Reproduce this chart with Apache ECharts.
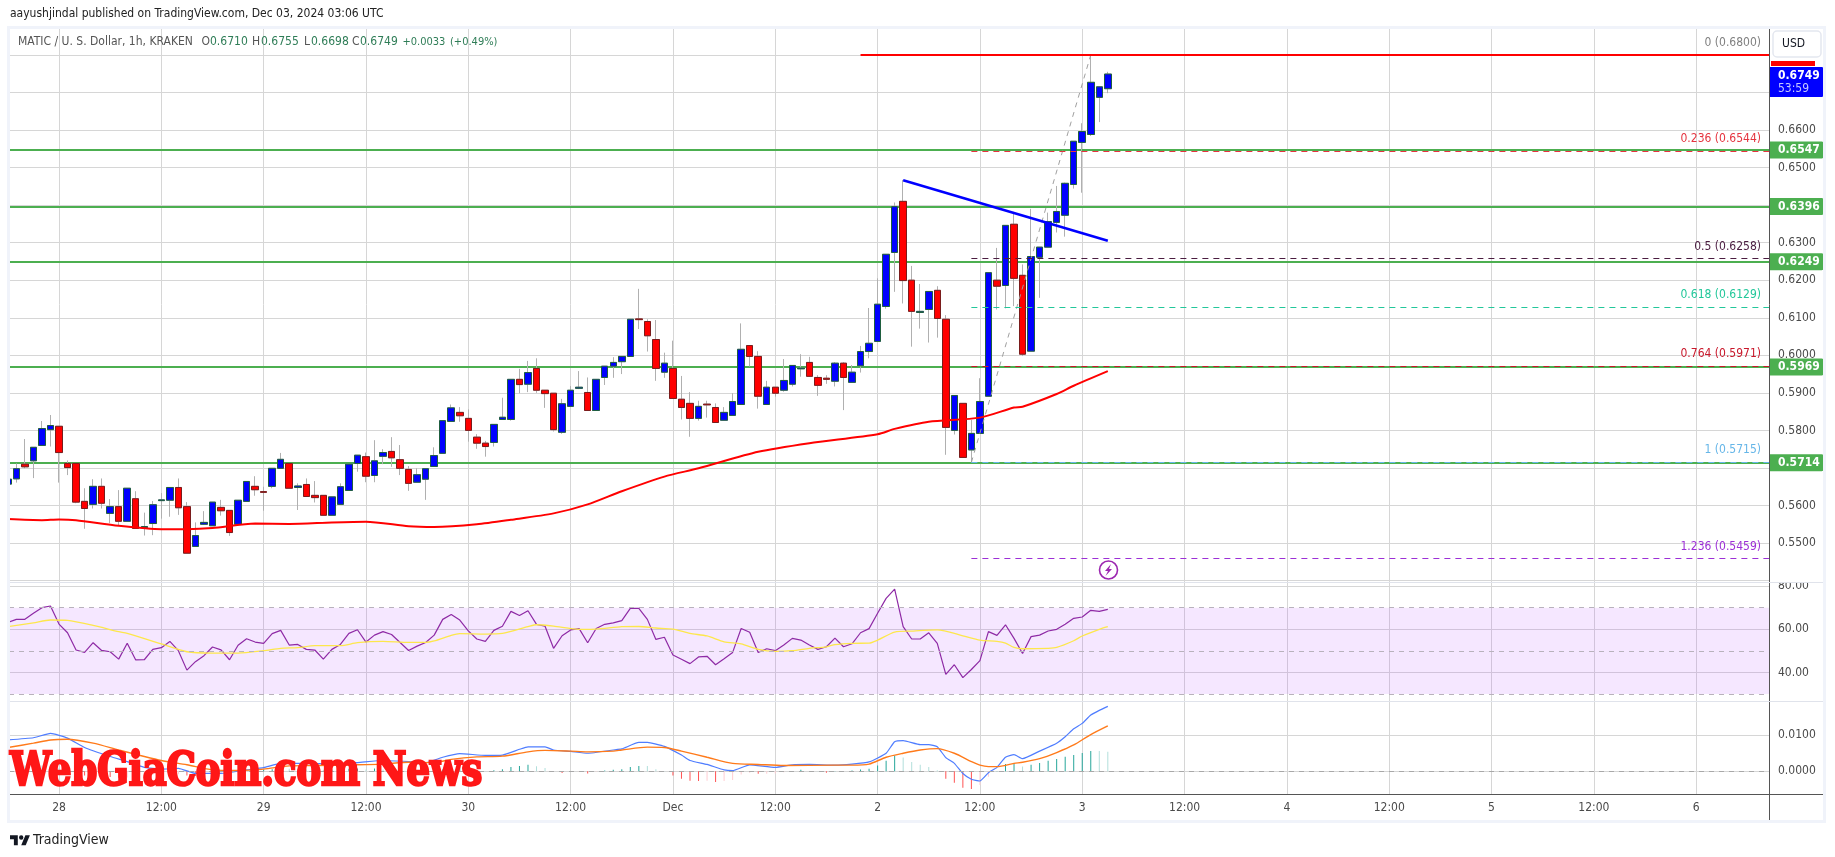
<!DOCTYPE html>
<html>
<head>
<meta charset="utf-8">
<title>MATIC / U.S. Dollar</title>
<script src="https://cdn.jsdelivr.net/npm/echarts@6/dist/echarts.min.js"></script>
<style>html,body{margin:0;padding:0;background:#fff}#c{width:1835px;height:857px}</style>
</head>
<body>
<div id="c"></div>
<script>
// ---------- data: hour offset from 28 Nov 00:00 ----------
const firstHour = -6;
// [open, close, low, high], one row per hour
const ohlc = [
[.5657,.5670,.5648,.5672],[.5671,.5698,.5661,.5712],[.5710,.5703,.5699,.5777],[.5719,.5755,.5673,.5755],[.5760,.5805,.5760,.5825],[.5802,.5813,.5757,.5841],
[.5811,.5741,.5661,.5811],[.5712,.5701,.5681,.5720],[.5712,.5609,.5606,.5712],[.5611,.5592,.5538,.5646],[.5603,.5651,.5592,.5670],[.5651,.5606,.5592,.5672],
[.5579,.5597,.5553,.5617],[.5597,.5558,.5548,.5641],[.5558,.5646,.5558,.5646],[.5618,.5539,.5539,.5638],[.5541,.5544,.5520,.5581],[.5552,.5602,.5521,.5612],
[.5613,.5615,.5565,.5633],[.5614,.5648,.5570,.5648],[.5648,.5594,.5575,.5672],[.5597,.5473,.5473,.5609],[.5491,.5520,.5490,.5555],[.5550,.5555,.5548,.5585],
[.5546,.5609,.5546,.5609],[.5595,.5586,.5573,.5615],[.5587,.5528,.5519,.5587],[.5550,.5614,.5548,.5614],[.5611,.5664,.5611,.5664],[.5651,.5642,.5626,.5678],
[.5637,.5635,.5586,.5650],[.5651,.5699,.5646,.5699],[.5699,.5723,.5699,.5740],[.5712,.5646,.5646,.5712],[.5648,.5652,.5588,.5659],[.5656,.5624,.5623,.5672],
[.5627,.5621,.5608,.5665],[.5627,.5574,.5574,.5627],[.5574,.5623,.5574,.5623],[.5603,.5650,.5603,.5659],[.5640,.5710,.5640,.5710],[.5712,.5734,.5690,.5734],
[.5730,.5678,.5662,.5741],[.5680,.5719,.5662,.5774],[.5731,.5741,.5710,.5750],[.5744,.5727,.5703,.5782],[.5722,.5699,.5681,.5761],[.5696,.5659,.5639,.5705],
[.5662,.5682,.5661,.5699],[.5670,.5698,.5615,.5699],[.5704,.5733,.5704,.5755],[.5739,.5826,.5739,.5826],[.5824,.5860,.5824,.5869],[.5848,.5839,.5823,.5862],
[.5832,.5800,.5770,.5856],[.5782,.5766,.5751,.5790],[.5766,.5757,.5730,.5772],[.5768,.5816,.5757,.5816],[.5829,.5835,.5829,.5887],[.5829,.5936,.5826,.5936],
[.5936,.5922,.5899,.5964],[.5923,.5954,.5902,.5985],[.5965,.5907,.5900,.5992],[.5907,.5898,.5860,.5907],[.5899,.5802,.5797,.5899],[.5795,.5871,.5791,.5884],
[.5864,.5907,.5862,.5918],[.5912,.5915,.5910,.5958],[.5901,.5853,.5853,.5941],[.5853,.5936,.5853,.5936],[.5941,.5971,.5921,.5971],[.5971,.5981,.5940,.5995],
[.5983,.5997,.5950,.5997],[.5997,.6096,.5997,.6096],[.6097,.6095,.6070,.6177],[.6090,.6052,.6010,.6096],[.6042,.5965,.5932,.6094],[.5955,.5979,.5940,.6007],
[.5965,.5885,.5885,.6039],[.5883,.5861,.5829,.5945],[.5872,.5832,.5783,.5902],[.5832,.5864,.5826,.5879],[.5870,.5868,.5834,.5879],[.5861,.5821,.5821,.5872],
[.5827,.5848,.5827,.5862],[.5840,.5877,.5840,.5899],[.5869,.6016,.5869,.6085],[.6026,.5997,.5970,.6026],[.5997,.5891,.5858,.6011],[.5869,.5915,.5869,.5932],
[.5915,.5899,.5890,.5915],[.5907,.5933,.5903,.5990],[.5923,.5973,.5917,.5973],[.5964,.5966,.5943,.6003],[.5981,.5944,.5943,.5996],[.5941,.5920,.5892,.5947],
[.5939,.5936,.5924,.5947],[.5931,.5979,.5917,.5982],[.5979,.5941,.5854,.5982],[.5928,.5955,.5928,.5974],[.5972,.6010,.5954,.6025],[.6010,.6032,.5992,.6126],
[.6037,.6136,.6037,.6205],[.6130,.6269,.6124,.6269],[.6274,.6396,.6169,.6407],[.6410,.6199,.6138,.6467],[.6200,.6117,.6023,.6238],[.6114,.6117,.6071,.6190],
[.6122,.6170,.6034,.6170],[.6173,.6098,.6047,.6184],[.6096,.5808,.5735,.6107],[.5800,.5893,.5789,.5893],[.5872,.5728,.5728,.5872],[.5748,.5792,.5715,.5828],
[.5792,.5877,.5792,.5939],[.5891,.6220,.5891,.6220],[.6200,.6184,.6122,.6286],[.6186,.6346,.6125,.6346],[.6349,.6205,.6131,.6382],[.6213,.6003,.5998,.6242],
[.6011,.6263,.6011,.6390],[.6261,.6288,.6153,.6288],[.6288,.6356,.6288,.6380],[.6354,.6383,.6327,.6451],[.6373,.6458,.6316,.6460],[.6455,.6570,.6444,.6570],
[.6567,.6596,.6433,.6618],[.6588,.6727,.6584,.6800],[.6687,.6715,.6621,.6715],[.6710,.6749,.6698,.6755]
];
// moving average over price: [hour, value]
const priceMA = [[-6,.5564],[-2,.5561],[0,.5563],[2,.5561],[7,.5546],[12,.5537],[15,.5537],[18,.5540],[23,.5552],[27,.5551],[32,.5555],[36,.5557],[41,.5545],[44,.5543],[49,.5550],[53,.5562],[58,.5579],[62,.5603],[66,.5638],[71,.5677],[75,.5699],[82,.5743],[88,.5766],[96,.5790],[98,.5804],[102,.5823],[108,.5834],[112,.5861],[113,.5863],[117,.5897],[119,.5919],[123,.5958]];
// RSI, one per hour
const rsi = [63.2,64.6,64.6,67.4,70.0,70.8,62.4,58.4,50.4,49.3,53.8,50.2,49.6,46.2,53.5,45.8,45.9,50.7,51.5,54.4,50.1,41.1,45.0,47.8,51.8,50.5,45.9,52.6,55.6,54.1,53.5,58.0,59.5,52.7,53.0,50.7,50.4,46.2,50.7,53.0,58.1,59.8,54.1,57.3,58.9,57.6,53.9,50.2,52.2,53.9,57.3,64.6,66.9,64.3,59.3,55.5,54.4,59.5,61.4,68.3,66.4,68.6,62.3,61.4,51.2,57.0,59.7,60.3,53.8,60.4,62.3,63.0,
64.0,69.7,69.7,64.6,55.3,56.3,48.1,46.1,44.1,47.2,47.5,43.6,46.4,49.3,60.4,58.6,49.3,51.0,50.1,52.7,55.8,55.0,52.7,50.7,51.9,55.9,51.9,53.3,58.4,60.3,67.4,74.3,78.6,61.2,55.5,55.5,58.4,53.5,39.1,43.6,37.6,41.4,45.5,58.9,57.2,62.1,55.8,48.8,56.6,57.3,59.2,60.0,62.3,65.1,65.7,68.8,68.3,69.2];
const rsiMA = [[-6,61.2],[-3,63.0],[-1,64.3],[1,64.1],[4,61.8],[7,58.9],[8,58.1],[12,53.2],[15,49.6],[18,49.0],[21,49.0],[24,50.1],[26,51.2],[28,51.5],[30,52.4],[33,52.4],[35,53.8],[38,54.4],[41,53.9],[43,53.9],[44,54.6],[46,57.2],[47,58.0],[50,57.8],[52,58.1],[55,61.2],[56,62.1],[58,61.5],[61,60.0],[63,60.1],[66,61.2],[68,61.3],[70,60.6],[72,60.1],[74,58.1],[76,56.9],[78,54.2],[80,53.2],[82,50.7],[84,49.8],[86,50.1],[88,51.2],[90,51.9],[91,52.9],[93,53.5],[95,53.6],[96,55.0],[98,58.7],[100,59.2],[103,59.7],[106,57.0],[108,55.0],[110,54.4],[111,53.6],[112,51.6],[113,51.0],[116,51.2],[117,51.6],[119,54.7],[120,56.9],[122,60.0],[123,61.2]];
const rsiBands = [70,50,30];
// MACD
const macdLine = [[-6,.0087],[-3,.0093],[-1,.0105],[1,.0092],[3,.0066],[6,.0041],[8,.0027],[10,.0011],[12,.0006],[14,.0008],[16,-.0006],[19,-.0006],[22,.0004],[24,.0010],[26,.0022],[29,.0022],[32,.0020],[35,.0024],[38,.0030],[41,.0027],[43,.0024],[45,.0039],[47,.0049],[50,.0044],[52,.0045],[54,.0061],[55,.0068],[57,.0068],[58,.0059],[60,.0055],[62,.0050],[65,.0059],[66,.0062],[68,.0080],[69,.0080],[71,.0069],[73,.0045],[74,.0030],[76,.0019],[78,.0004],[79,.0002],[81,.0018],[84,.0011],[86,.0018],[88,.0019],[91,.0017],[93,.0020],[95,.0026],[97,.0050],[98,.0082],[99,.0085],[101,.0074],[102,.0074],[103,.0068],[104,.0038],[105,.0022],[106,-.0006],[107,-.0022],[108,-.0027],[109,-.0004],[110,.0011],[111,.0039],[112,.0046],[113,.0035],[115,.0056],[117,.0078],[118,.0096],[119,.0118],[120,.0133],[121,.0156],[122,.0169],[123,.0180]];
const macdSignal = [[-6,.0066],[-3,.0078],[-1,.0087],[1,.0089],[4,.0078],[7,.0059],[10,.0041],[12,.0030],[15,.0018],[18,.0004],[21,.0002],[24,.0006],[27,.0015],[30,.0016],[35,.0018],[38,.0020],[41,.0025],[44,.0024],[46,.0033],[49,.0040],[52,.0042],[55,.0054],[57,.0058],[60,.0056],[62,.0054],[65,.0056],[66,.0059],[69,.0067],[71,.0066],[73,.0056],[76,.0039],[79,.0022],[82,.0019],[85,.0016],[91,.0017],[93,.0017],[95,.0020],[97,.0039],[99,.0050],[101,.0059],[103,.0063],[105,.0050],[107,.0027],[108,.0017],[109,.0013],[110,.0013],[112,.0022],[113,.0025],[115,.0035],[117,.0052],[119,.0073],[121,.0102],[123,.0126]];
const macdHist = [.0020,.0018,.0016,.0016,.0016,.0018,.0010,.0002,-.0008,-.0012,-.0014,-.0015,-.0016,-.0018,-.0017,-.0016,-.0012,-.0010,-.0010,-.0008,-.0008,-.0012,-.0013,-.0012,-.0010,-.0008,-.0006,-.0004,-.0002,.0002,.0004,.0006,.0007,.0007,.0006,.0005,.0004,.0004,.0005,.0006,.0007,
.0008,.0005,.0008,.0005,.0003,.0002,.0002,-.0001,.0001,.0002,.0005,.0008,.0016,.0006,.0003,.0001,.0003,.0006,.0012,.0015,.0018,.0014,.0009,.0001,-.0005,-.0001,-.0001,-.0006,-.0001,.0002,.0004,.0006,.0012,.0015,.0015,.0006,.0001,-.0012,-.0021,-.0026,-.0027,-.0026,-.0030,-.0027,-.0024,-.0009,-.0004,-.0007,-.0007,-.0006,-.0003,.0001,.0004,.0001,.0001,-.0004,.0001,-.0001,.0002,.0005,.0007,.0016,.0029,.0044,.0038,.0026,.0018,.0012,.0003,-.0021,-.0032,-.0046,-.0049,-.0038,-.0015,.0001,.0020,.0023,.0013,.0018,.0023,.0029,.0034,.0040,.0045,.0051,.0056,.0056,.0054];
// horizontal levels
const supportLevels = [.6547,.6396,.6249,.5969,.5714];
const fibRatios = ['0','0.236','0.5','0.618','0.764','1','1.236'];
const fibPrices = [.6800,.6544,.6258,.6129,.5971,.5715,.5459];
const fibColors = ['#808080','#e5343f','#4a1c40','#22c79a','#c9182b','#66b6e8','#9c2fd6'];
const fibStartHour = 107;
const highLine = {hour:94, price:.6800};
const trendLine = [[99,.6466],[123,.6305]];
const fibDiagonal = [[107,.5715],[121,.6800]];
const lastPrice = .6749, countdown = '53:59';
// tick labels
const timeTicks = [[0,'28'],[12,'12:00'],[24,'29'],[36,'12:00'],[48,'30'],[60,'12:00'],[72,'Dec'],[84,'12:00'],[96,'2'],[108,'12:00'],[120,'3'],[132,'12:00'],[144,'4'],[156,'12:00'],[168,'5'],[180,'12:00'],[192,'6']];
const priceGrid = [.54,.55,.56,.57,.58,.59,.60,.61,.62,.63,.64,.65,.66,.67,.68];
const priceLabels = [.55,.56,.58,.59,.60,.61,.62,.63,.65,.66];
const rsiTicks = [40,60,80];
const macdTicks = [0,.01];

// ---------- view settings ----------
const FONT = '"DejaVu Sans Condensed","DejaVu Sans",sans-serif';
const GRIDC = '#d6d6d6';
const xMin = -5.864, xMax = 200.54;
const hours = ohlc.map((_, i) => firstHour + i);
const series = [];

function xAxis(idx, withLabels) {
  return {
    type:'value', gridIndex:idx, min:xMin, max:xMax, scale:true,
    axisLine:{show:false},
    axisTick:{show:false, customValues:timeTicks.map(t => t[0])},
    splitLine:{show:true, lineStyle:{color:GRIDC, width:1}},
    axisLabel: withLabels ? {
      show:true, customValues:timeTicks.map(t => t[0]), margin:8,
      color:'#4a4a4a', fontFamily:FONT, fontSize:12,
      formatter:v => { const f = timeTicks.find(t => t[0] === v); return f ? f[1] : ''; }
    } : {show:false}
  };
}
function yAxis(idx, min, max, grid, labels, fmt) {
  return {
    type:'value', gridIndex:idx, position:'right', min, max, scale:true,
    axisLine:{show:true, onZero:false, lineStyle:{color:'#555', width:1}},
    axisTick:{show:false, customValues:grid},
    splitLine:{show:true, lineStyle:{color:GRIDC, width:1}},
    axisLabel:{show:true, customValues:labels, margin:9, color:'#4a4a4a', fontFamily:FONT, fontSize:12, formatter:fmt}
  };
}

// support levels (under the candles)
series.push({
  type:'line', xAxisIndex:0, yAxisIndex:0, data:[], z:1, clip:false, silent:true,
  markLine:{
    silent:true, symbol:'none', animation:false, z:1,
    data: supportLevels.map(p => [{
      coord:[xMin,p], lineStyle:{color:'#4caf50', width:2, type:'solid'},
      label:{show:true, position:'end', distance:1, formatter:p.toFixed(4), color:'#fff', fontWeight:'bold', fontSize:12, fontFamily:FONT,
        backgroundColor:'#4caf50', padding:[3,4,2,8], borderRadius:[0,2,2,0]}
    },{coord:[xMax,p]}])
  }
});
// wicks
series.push({
  type:'candlestick', xAxisIndex:0, yAxisIndex:0, z:2, barWidth:7, silent:true,
  data: ohlc.map((r,i) => [hours[i], r[0], r[1], r[2], r[3]]),
  itemStyle:{color:'#b0b0b0', color0:'#b0b0b0', borderColor:'#b0b0b0', borderColor0:'#b0b0b0', borderWidth:1}
});
// bodies
series.push({
  type:'candlestick', xAxisIndex:0, yAxisIndex:0, z:2, barWidth:7, silent:true,
  data: ohlc.map((r,i) => [hours[i], r[0], r[1], Math.min(r[0],r[1]), Math.max(r[0],r[1])]),
  itemStyle:{color:'#0000ff', color0:'#ff0000', borderColor:'#1f5f3f', borderColor0:'#7a1c1c', borderWidth:1}
});
// moving average
series.push({type:'line', xAxisIndex:0, yAxisIndex:0, z:3, data:priceMA, showSymbol:false, smooth:0.25, lineStyle:{color:'#ff0000', width:2}, silent:true});
// drawings
series.push({type:'line', xAxisIndex:0, yAxisIndex:0, z:3, data:fibDiagonal, showSymbol:false, lineStyle:{color:'#a0a0a0', width:1, type:[5,5]}, silent:true});
series.push({type:'line', xAxisIndex:0, yAxisIndex:0, z:4, data:trendLine, showSymbol:false, lineStyle:{color:'#0000ff', width:2.5}, silent:true});
// fibonacci levels
series.push({
  type:'line', xAxisIndex:0, yAxisIndex:0, data:[], z:4, clip:false, silent:true,
  markLine:{
    silent:true, symbol:'none', animation:false, z:4,
    data: fibPrices.map((p,i) => [{
      coord:[fibStartHour,p], lineStyle:{color:fibColors[i], width:1, type:[6,5]},
      label:{show:true, position:'insideEndTop', distance:[8,6], formatter:fibRatios[i]+' ('+p.toFixed(4)+')', color:fibColors[i], fontSize:12, fontFamily:FONT}
    },{coord:[xMax,p]}]).concat([
      [{coord:[highLine.hour,highLine.price], lineStyle:{color:'#ff0000', width:2, type:'solid'}, label:{show:false}},{coord:[xMax,highLine.price]}],
      [{coord:[123,lastPrice], lineStyle:{width:1, color:'rgba(0,0,0,0)'},
        label:{show:true, position:'end', distance:1, offset:[0,8], color:'#fff', backgroundColor:'#0000ff', padding:[2,4,2,8], borderRadius:[0,2,2,0],
          formatter:'{a|'+lastPrice.toFixed(4)+'}\n{b|'+countdown+'}',
          rich:{a:{color:'#fff', fontWeight:'bold', fontSize:12, fontFamily:FONT, lineHeight:13},b:{color:'#c4c8ff', fontSize:12, fontFamily:FONT, lineHeight:13}}}
      },{coord:[xMax,lastPrice]}]
    ])
  }
});
// RSI
series.push({
  type:'line', xAxisIndex:1, yAxisIndex:1, z:3, data:rsi.map((v,i) => [hours[i],v]), showSymbol:false,
  lineStyle:{color:'#8e2aa5', width:1.2}, silent:true,
  markArea:{silent:true, animation:false, itemStyle:{color:'rgba(170,60,255,0.12)'}, data:[[{yAxis:rsiBands[0]},{yAxis:rsiBands[2]}]]},
  markLine:{silent:true, symbol:'none', animation:false, label:{show:false},
    lineStyle:{color:'#b8b2bc', width:1, type:[5,5]}, data:rsiBands.map(v => ({yAxis:v}))}
});
series.push({type:'line', xAxisIndex:1, yAxisIndex:1, z:3, data:rsiMA, showSymbol:false, smooth:0.25, lineStyle:{color:'#fde74c', width:1.3}, silent:true});
// MACD
series.push({
  type:'bar', xAxisIndex:2, yAxisIndex:2, z:2, barWidth:1, silent:true,
  data: macdHist.map((v,i) => {
    const prev = i ? macdHist[i-1] : v;
    const col = v >= 0 ? (v > prev ? '#26a69a' : '#b2dfdb') : (v < prev ? '#ff5252' : '#ffcdd2');
    return {value:[hours[i],v], itemStyle:{color:col}};
  }),
  markLine:{silent:true, symbol:'none', animation:false, label:{show:false},
    lineStyle:{color:'#a8a8a8', width:1, type:[5,5]}, data:[{yAxis:0}]}
});
series.push({type:'line', xAxisIndex:2, yAxisIndex:2, z:3, data:macdLine, showSymbol:false, smooth:0.15, lineStyle:{color:'#4f7dff', width:1.2}, silent:true});
series.push({type:'line', xAxisIndex:2, yAxisIndex:2, z:3, data:macdSignal, showSymbol:false, smooth:0.25, lineStyle:{color:'#ff7a1a', width:1.4}, silent:true});

// ---------- page furniture ----------
function txt(text, x, y, fill, size, extra) {
  return Object.assign({type:'text', x, y, z:50, silent:true,
    style:{text, fill, font:(size||12)+'px '+FONT, textVerticalAlign:'middle'}}, extra||{});
}
function hline(x1,x2,y,color) {
  return {type:'line', z:40, silent:true, shape:{x1,y1:y+.5,x2,y2:y+.5}, style:{stroke:color, lineWidth:1}};
}
const GREEN='#2f7d57', GREY='#555';
const graphic = [
  {type:'rect', z:39, silent:true, shape:{x:1771,y:574,width:52,height:8}, style:{fill:'#fff'}},
  {type:'rect', z:59, silent:true, shape:{x:0,y:28,width:8,height:794}, style:{fill:'#fff'}},
  {type:'rect', z:60, silent:true, shape:{x:8.5,y:27.5,width:1816,height:794}, style:{fill:'none', stroke:'#f0f3fa', lineWidth:3}},
  hline(9,1825,582,'#e0e3eb'), hline(9,1825,701,'#e0e3eb'), hline(9,1825,794,'#555'),
  {type:'line', z:40, silent:true, shape:{x1:1769.5,y1:794,x2:1769.5,y2:821}, style:{stroke:'#555', lineWidth:1}},
  {type:'rect', z:45, silent:true, shape:{x:1771,y:61,width:44,height:5}, style:{fill:'#ff0000'}},
  {type:'rect', z:61, silent:true, shape:{x:1773,y:31,width:48,height:26,r:4}, style:{fill:'#fff', stroke:'#e4e7ef', lineWidth:1.5}},
  txt('USD',1782,44,'#131722',12,{z:62}),
  txt('aayushjindal published on TradingView.com, Dec 03, 2024 03:06 UTC',10,14,'#222',12),
  txt('MATIC / U. S. Dollar, 1h, KRAKEN',18,42,GREY,12),
  txt('O',201.5,42,GREY,12), txt('0.6710',210,42,GREEN,12),
  txt('H',252,42,GREY,12), txt('0.6755',261,42,GREEN,12),
  txt('L',304,42,GREY,12), txt('0.6698',311,42,GREEN,12),
  txt('C',352,42,GREY,12), txt('0.6749',360,42,GREEN,12),
  txt('+0.0033',402.5,42,GREEN,11), txt('(+0.49%)',450,42,GREEN,11),
  {type:'circle', z:50, silent:true, shape:{cx:1108.5,cy:570,r:9}, style:{fill:'#fff', stroke:'#9c27b0', lineWidth:1.6}},
  {type:'polygon', z:51, silent:true, shape:{points:[[1111,564],[1105,571],[1108,571],[1105.5,576],[1112,569],[1109,569]]}, style:{fill:'#9c27b0'}},
  {type:'text', z:70, silent:true, x:10, y:773, scaleX:0.89, style:{text:'WebGiaCoin.com News', fill:'#ff1717', stroke:'#ff1717', lineWidth:2.5, font:'900 46px "DejaVu Serif Condensed","DejaVu Serif",serif', textVerticalAlign:'middle'}},
  {type:'polygon', z:50, silent:true, shape:{points:[[10,835.2],[17.8,835.2],[17.8,845.3],[13.9,845.3],[13.9,839.2],[10,839.2]]}, style:{fill:'#131722'}},
  {type:'polygon', z:50, silent:true, shape:{points:[[21.2,845.3],[25.7,845.3],[29.9,835.2],[25.4,835.2]]}, style:{fill:'#131722'}},
  {type:'circle', z:50, silent:true, shape:{cx:21.2,cy:837.5,r:2.2}, style:{fill:'#131722'}},
  txt('TradingView',33,840,'#222',14)
];

const chart = echarts.init(document.getElementById('c'), null, {renderer:'canvas', width:1835, height:857});
chart.setOption({
  animation:false,
  backgroundColor:'#ffffff',
  grid:[
    {left:9, top:27, width:1760, height:555},
    {left:9, top:582, width:1760, height:119},
    {left:9, top:701, width:1760, height:93}
  ],
  xAxis:[xAxis(0,false), xAxis(1,false), xAxis(2,true)],
  yAxis:[
    yAxis(0, .66-452/3755, .66+103/3755, priceGrid, priceLabels, v => v.toFixed(4)),
    yAxis(1, 26.8, 81.9, rsiTicks, rsiTicks, v => v.toFixed(2)),
    yAxis(2, -.0063, .0195, macdTicks, macdTicks, v => v.toFixed(4))
  ],
  series,
  graphic
});
</script>
</body>
</html>
